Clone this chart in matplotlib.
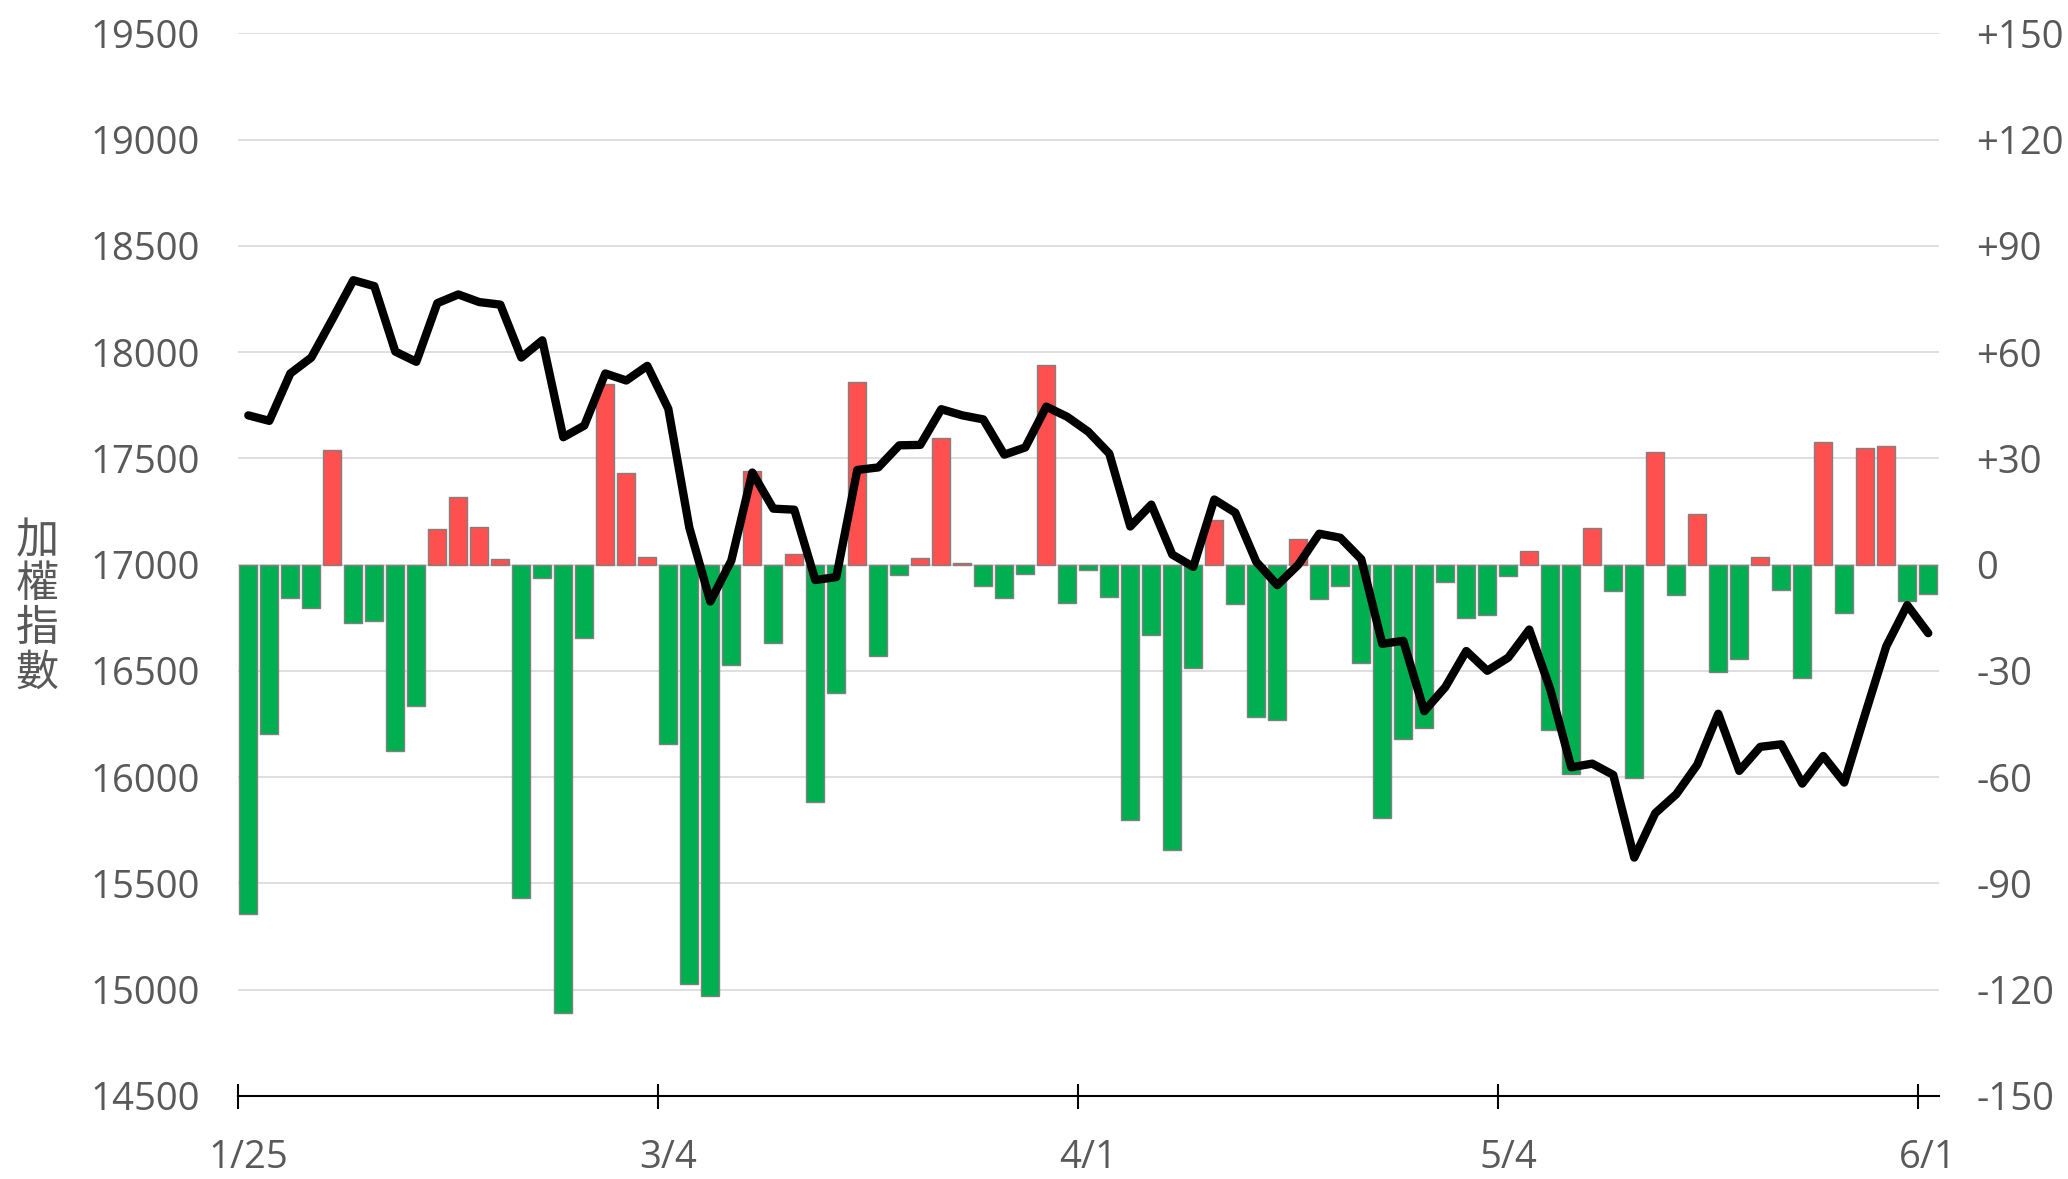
import matplotlib
matplotlib.use("Agg")
import matplotlib.pyplot as plt

plt.rcParams['font.family'] = ['Open Sans', 'Noto Sans CJK TC', 'DejaVu Sans']

dates = ["1/25","1/26","2/7","2/8","2/9","2/10","2/11","2/14","2/15","2/16","2/17","2/18","2/21","2/22","2/23","2/24","2/25","3/1","3/2","3/3",
         "3/4","3/7","3/8","3/9","3/10","3/11","3/14","3/15","3/16","3/17","3/18","3/21","3/22","3/23","3/24","3/25","3/28","3/29","3/30","3/31",
         "4/1","4/6","4/7","4/8","4/11","4/12","4/13","4/14","4/15","4/18","4/19","4/20","4/21","4/22","4/25","4/26","4/27","4/28","4/29","5/3",
         "5/4","5/5","5/6","5/9","5/10","5/11","5/12","5/13","5/16","5/17","5/18","5/19","5/20","5/23","5/24","5/25","5/26","5/27","5/30","5/31",
         "6/1"]

index_values = [17703, 17677, 17900, 17975, 18155, 18339, 18311, 18003, 17955, 18231,
                18272, 18236, 18224, 17975, 18056, 17600, 17655, 17900, 17867, 17936,
                17734, 17175, 16827, 17019, 17434, 17264, 17259, 16928, 16942, 17446,
                17458, 17562, 17564, 17732, 17703, 17684, 17518, 17552, 17744, 17696,
                17626, 17523, 17180, 17283, 17048, 16990, 17307, 17245, 17014, 16904,
                17000, 17146, 17127, 17026, 16628, 16642, 16311, 16424, 16594, 16501,
                16563, 16695, 16414, 16047, 16064, 16011, 15622, 15831, 15920, 16059,
                16299, 16030, 16143, 16155, 15970, 16100, 15975, 16299, 16616, 16810,
                16678]

bar_values = [-98.5, -47.7, -9.4, -12.1, 32.4, -16.4, -16.0, -52.7, -40.0, 10.1,
              19.2, 10.7, 1.6, -94.0, -3.7, -126.6, -20.7, 51.1, 25.8, 2.3,
              -50.6, -118.4, -121.7, -28.4, 26.5, -22.0, 3.0, -67.0, -36.2, 51.6,
              -25.9, -3.0, 2.0, 35.7, 0.5, -6.0, -9.4, -2.6, 56.3, -10.7,
              -1.4, -9.2, -72.0, -19.7, -80.5, -29.1, 12.7, -11.2, -42.9, -43.9,
              7.3, -9.8, -6.0, -27.7, -71.4, -49.3, -46.1, -4.8, -15.1, -14.1,
              -3.2, 4.0, -46.7, -59.2, 10.5, -7.5, -60.1, 31.8, -8.6, 14.3,
              -30.2, -26.6, 2.3, -7.2, -32.0, 34.7, -13.7, 33.0, 33.6, -10.2,
              -8.2]

left_ticks = [14500, 15000, 15500, 16000, 16500, 17000, 17500, 18000, 18500, 19000, 19500]
right_ticks = [-150, -120, -90, -60, -30, 0, 30, 60, 90, 120, 150]
right_labels = ["-150", "-120", "-90", "-60", "-30", "0", "+30", "+60", "+90", "+120", "+150"]
label_idx = [0, 20, 40, 60, 80]

TEXT = '#595959'
RED = '#FF5050'
GREEN = '#00B050'
FS = 27.5

fig = plt.figure(figsize=(20.68, 11.79), dpi=100)
ax = fig.add_axes([0.1150, 0.0704, 0.8225, 0.9012])
ax2 = ax.twinx()
ax.set_zorder(2)
ax2.set_zorder(1)
ax.patch.set_visible(False)

x = list(range(len(dates)))
colors = [RED if v > 0 else GREEN for v in bar_values]
ax2.bar(x, bar_values, width=0.857, color=colors, edgecolor='#808080', linewidth=1.0)
ax2.set_ylim(-150, 150)
ax2.set_yticks(right_ticks)
ax2.set_yticklabels(right_labels)
ax2.yaxis.grid(True, color='#D9D9D9', linewidth=1.2)
ax2.set_axisbelow(True)
ax2.tick_params(axis='y', length=0, pad=27, labelsize=FS, labelcolor=TEXT)
for lab in ax2.get_yticklabels():
    lab.set_horizontalalignment('left')

ax.plot(x, index_values, color='black', linewidth=6.0, solid_joinstyle='round', solid_capstyle='round')
ax.set_ylim(14500, 19500)
ax.set_xlim(-0.5, len(dates) - 0.5)
ax.set_yticks(left_ticks)
ax.set_yticklabels([str(t) for t in left_ticks])
ax.tick_params(axis='y', length=0, pad=27, labelsize=FS, labelcolor=TEXT)

ax.set_xticks(label_idx)
ax.set_xticklabels([dates[i] for i in label_idx])
ax.set_xticks([i - 0.5 for i in label_idx], minor=True)
ax.tick_params(axis='x', which='major', length=0, pad=31, labelsize=FS, labelcolor=TEXT)
ax.tick_params(axis='x', which='minor', length=18, width=1.5, direction='inout', color='black')

for s in ['top', 'left', 'right']:
    ax.spines[s].set_visible(False)
    ax2.spines[s].set_visible(False)
ax2.spines['bottom'].set_visible(False)
ax.spines['bottom'].set_color('black')
ax.spines['bottom'].set_linewidth(1.5)

fig.text(0.0179, 0.485, "加\n權\n指\n數", ha='center', va='center', fontsize=31,
         color=TEXT, linespacing=1.0, family=['Noto Sans CJK TC', 'DejaVu Sans'])

fig.savefig("out.png", dpi=100)
